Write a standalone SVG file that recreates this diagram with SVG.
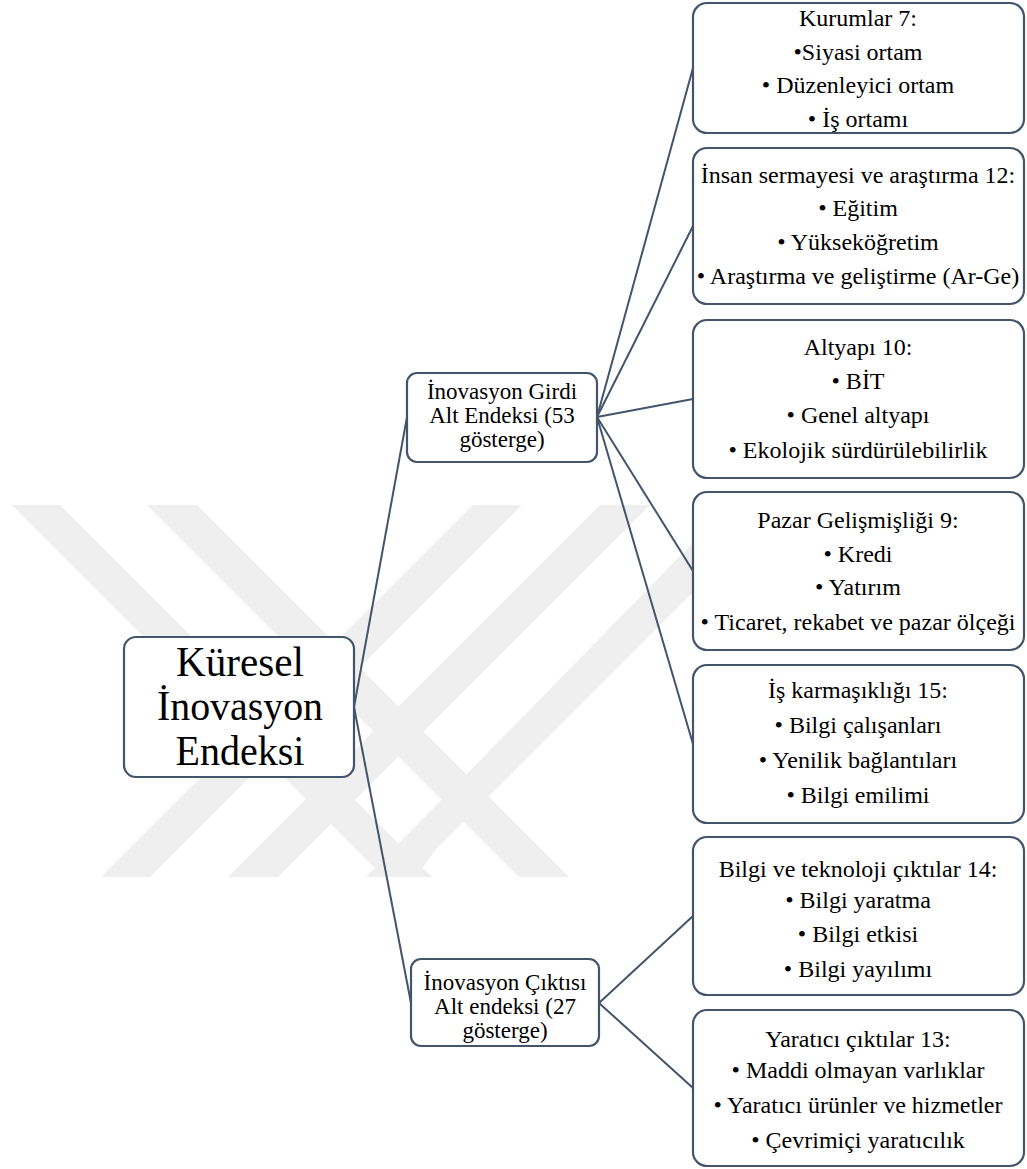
<svg xmlns="http://www.w3.org/2000/svg" width="1027" height="1169" viewBox="0 0 1027 1169">
<style>
.box{fill:#ffffff;stroke:#44546a;stroke-width:2.2}
.ln{stroke:#44546a;stroke-width:2;fill:none}
.t{font-family:"Liberation Serif","Times New Roman",serif;fill:#000;text-anchor:middle}
.big{font-size:42px}
.mid{font-size:23px}
.sm{font-size:24px}
.wm{fill:#efefef}
</style>
<rect width="1027" height="1169" fill="#ffffff"/>
<g id="watermark">
<polygon class="wm" points="12,505 60,505 432,877 384,877"/>
<polygon class="wm" points="147,505 197,505 569,877 519,877"/>
<polygon class="wm" points="473,505 522,505 150,877 101,877"/>
<polygon class="wm" points="600,505 650,505 278,877 228,877"/>
<polygon class="wm" points="730,505 780,505 436,849 416,877 366,877"/>
</g>
<g id="connectors">
<line class="ln" x1="354" y1="707" x2="407" y2="417"/>
<line class="ln" x1="354" y1="707" x2="411" y2="1003"/>
<line class="ln" x1="597" y1="417" x2="693" y2="68"/>
<line class="ln" x1="597" y1="417" x2="693" y2="226"/>
<line class="ln" x1="597" y1="417" x2="693" y2="399"/>
<line class="ln" x1="597" y1="417" x2="693" y2="571"/>
<line class="ln" x1="597" y1="417" x2="693" y2="744"/>
<line class="ln" x1="599" y1="1003" x2="693" y2="916"/>
<line class="ln" x1="599" y1="1003" x2="693" y2="1088"/>
</g>
<g id="root">
<rect class="box" x="124" y="637" width="230" height="140" rx="12"/>
<text class="t big" x="240" y="676" textLength="128" lengthAdjust="spacingAndGlyphs">Küresel</text>
<text class="t big" x="240" y="720" textLength="166" lengthAdjust="spacingAndGlyphs">İnovasyon</text>
<text class="t big" x="240" y="765" textLength="129" lengthAdjust="spacingAndGlyphs">Endeksi</text>
</g>
<g id="input">
<rect class="box" x="407" y="373" width="190" height="89" rx="10"/>
<text class="t mid" x="502" y="399">İnovasyon Girdi</text>
<text class="t mid" x="502" y="423">Alt Endeksi (53</text>
<text class="t mid" x="502" y="447">gösterge)</text>
</g>
<g id="output">
<rect class="box" x="411" y="959" width="188" height="87" rx="10"/>
<text class="t mid" x="505" y="990">İnovasyon Çıktısı</text>
<text class="t mid" x="505" y="1014">Alt endeksi (27</text>
<text class="t mid" x="505" y="1038">gösterge)</text>
</g>
<g id="kurumlar">
<rect class="box" x="693" y="3" width="331" height="130" rx="14"/>
<text class="t sm" x="858" y="26">Kurumlar 7:</text>
<text class="t sm" x="858" y="60">•Siyasi ortam</text>
<text class="t sm" x="858" y="93">• Düzenleyici ortam</text>
<text class="t sm" x="858" y="127">• İş ortamı</text>
</g>
<g id="insan">
<rect class="box" x="693" y="148" width="331" height="156" rx="14"/>
<text class="t sm" x="858" y="183">İnsan sermayesi ve araştırma 12:</text>
<text class="t sm" x="858" y="216">• Eğitim</text>
<text class="t sm" x="858" y="250">• Yükseköğretim</text>
<text class="t sm" x="858" y="284">• Araştırma ve geliştirme (Ar-Ge)</text>
</g>
<g id="altyapi">
<rect class="box" x="693" y="320" width="331" height="158" rx="14"/>
<text class="t sm" x="858" y="355">Altyapı 10:</text>
<text class="t sm" x="858" y="389">• BİT</text>
<text class="t sm" x="858" y="423">• Genel altyapı</text>
<text class="t sm" x="858" y="458">• Ekolojik sürdürülebilirlik</text>
</g>
<g id="pazar">
<rect class="box" x="693" y="492" width="331" height="158" rx="14"/>
<text class="t sm" x="858" y="528">Pazar Gelişmişliği 9:</text>
<text class="t sm" x="858" y="562">• Kredi</text>
<text class="t sm" x="858" y="595">• Yatırım</text>
<text class="t sm" x="858" y="630">• Ticaret, rekabet ve pazar ölçeği</text>
</g>
<g id="is">
<rect class="box" x="693" y="665" width="331" height="158" rx="14"/>
<text class="t sm" x="858" y="698">İş karmaşıklığı 15:</text>
<text class="t sm" x="858" y="733">• Bilgi çalışanları</text>
<text class="t sm" x="858" y="768">• Yenilik bağlantıları</text>
<text class="t sm" x="858" y="803">• Bilgi emilimi</text>
</g>
<g id="bilgi">
<rect class="box" x="693" y="837" width="331" height="158" rx="14"/>
<text class="t sm" x="858" y="877">Bilgi ve teknoloji çıktılar 14:</text>
<text class="t sm" x="858" y="908">• Bilgi yaratma</text>
<text class="t sm" x="858" y="942">• Bilgi etkisi</text>
<text class="t sm" x="858" y="977">• Bilgi yayılımı</text>
</g>
<g id="yaratici">
<rect class="box" x="693" y="1010" width="331" height="156" rx="14"/>
<text class="t sm" x="858" y="1047">Yaratıcı çıktılar 13:</text>
<text class="t sm" x="858" y="1078">• Maddi olmayan varlıklar</text>
<text class="t sm" x="858" y="1113">• Yaratıcı ürünler ve hizmetler</text>
<text class="t sm" x="858" y="1148">• Çevrimiçi yaratıcılık</text>
</g>
</svg>
